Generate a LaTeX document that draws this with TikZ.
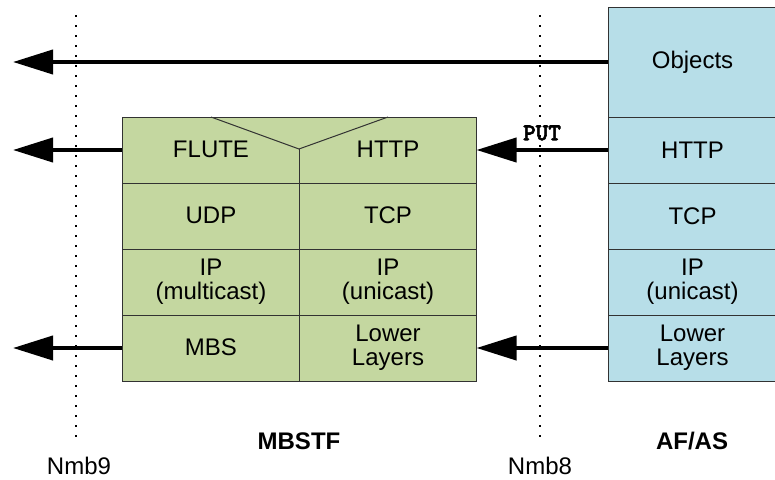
\documentclass[tikz,border=0pt]{standalone}
\usepackage{fontspec}
\setmainfont{Liberation Sans}
\newfontfamily\putfont{lmmonolt10-bold}[Extension=.otf, BoldFont=lmmonolt10-bold, BoldFeatures={FakeBold=2.5}]
\usetikzlibrary{arrows.meta}
\definecolor{gfill}{RGB}{196,215,160}
\definecolor{bfill}{RGB}{183,222,232}
\definecolor{edge}{RGB}{50,50,50}
\tikzset{
  lbl/.style={font=\fontsize{24}{24}\selectfont, align=center, inner sep=0pt},
  bcell/.style={draw=edge, line width=1pt, fill=bfill, minimum width=169pt, inner sep=0pt, font=\fontsize{24}{24}\selectfont, align=center},
  arr/.style={line width=4pt, -{Triangle[length=40pt,width=24pt]}},
  dots/.style={line width=1.5pt, dash pattern=on 1.5pt off 8.5pt},
  rowline/.style={draw=edge, line width=1pt},
  boldlbl/.style={font=\bfseries\fontsize{24}{24}\selectfont, inner sep=0pt}
}
\begin{document}
\begin{tikzpicture}[x=1pt,y=-1pt]
\useasboundingbox (0,0) rectangle (775,479);
% dotted reference lines
\coordinate (n9t) at (76,15); \coordinate (n9b) at (76,442);
\coordinate (n8t) at (540,15); \coordinate (n8b) at (540,442);
\draw[dots] (n9t) -- (n9b);
\draw[dots] (n8t) -- (n8b);
% MBSTF box
\node[draw=edge, line width=1pt, fill=gfill, minimum width=354pt, minimum height=264pt, inner sep=0pt] (mbstf) at (299,249) {};
\coordinate (r1l) at (122,183); \coordinate (r1r) at (476,183);
\coordinate (r2l) at (122,249); \coordinate (r2r) at (476,249);
\coordinate (r3l) at (122,315); \coordinate (r3r) at (476,315);
\coordinate (vt) at (299,149); \coordinate (vb) at (299,381);
\coordinate (dl) at (211,117); \coordinate (dr) at (388,117);
\draw[rowline] (r1l) -- (r1r);
\draw[rowline] (r2l) -- (r2r);
\draw[rowline] (r3l) -- (r3r);
\draw[rowline] (dl) -- (vt) -- (dr);
\draw[rowline] (vt) -- (vb);
\node[lbl] (flute) at (211,149) {FLUTE};
\node[lbl] (httpm) at (388,149) {HTTP};
\node[lbl] (udp) at (211,215) {UDP};
\node[lbl] (tcpm) at (388,215) {TCP};
\node[lbl] (ipm) at (211,282) {IP\\(multicast)};
\node[lbl] (ipu) at (388,282) {IP\\(unicast)};
\node[lbl] (mbs) at (211,347) {MBS};
\node[lbl] (llm) at (388,348) {Lower\\Layers};
% AF/AS stack
\node[bcell, minimum height=110pt] (objects) at (692.5,62) {Objects};
\node[bcell, minimum height=66pt] (httpa) at (692.5,150) {HTTP};
\node[bcell, minimum height=66pt] (tcpa) at (692.5,216) {TCP};
\node[bcell, minimum height=66pt] (ipa) at (692.5,282) {IP\\(unicast)};
\node[bcell, minimum height=66pt] (lla) at (692.5,348) {Lower\\Layers};
% arrows
\coordinate (e1) at (13,62);
\coordinate (e2) at (13,150);
\coordinate (e3) at (13,348);
\draw[arr] (objects.west) -- (e1);
\draw[arr] (mbstf.west |- httpa) -- (e2);
\draw[arr] (mbstf.west |- lla) -- (e3);
\draw[arr] (httpa.west) -- (mbstf.east |- httpa);
\draw[arr] (lla.west) -- (mbstf.east |- lla);
\node[font={\putfont\bfseries\fontsize{24}{24}\selectfont}, inner sep=0pt] (put) at (542,133) {PUT};
% labels
\node[boldlbl] (lmbstf) at (299,441) {MBSTF};
\node[boldlbl] (lafas) at (692,441) {AF/AS};
\node[lbl] (lnmb9) at (79,466) {Nmb9};
\node[lbl] (lnmb8) at (540,466) {Nmb8};
\end{tikzpicture}
\end{document}
